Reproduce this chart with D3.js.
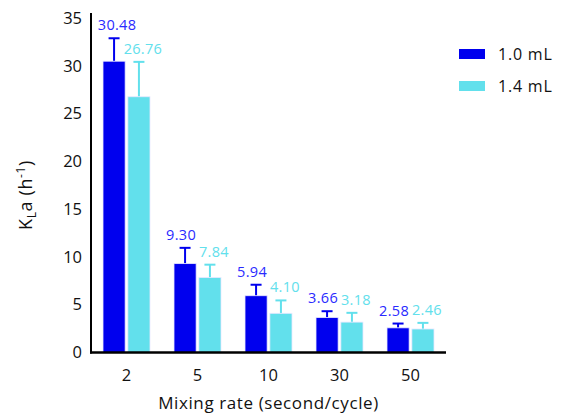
<!DOCTYPE html>
<meta charset="utf-8">
<script src="https://d3js.org/d3.v7.min.js"></script>
<style>
  body { margin: 0; background: #fff; }
  text { font-family: "Open Sans", Lato, sans-serif; }
</style>
<div id="chart"></div>
<script>
// mixing rate categories and the two fill volumes
var rates = ["2", "5", "10", "30", "50"];
var series = ["1.0 mL", "1.4 mL"];
var kla10 = [30.48, 9.30, 5.94, 3.66, 2.58];
var kla14 = [26.76, 7.84, 4.10, 3.18, 2.46];
var err10 = [2.4, 1.65, 1.15, 0.66, 0.45];
var err14 = [3.65, 1.35, 1.35, 0.97, 0.64];
var yTicks = [0, 5, 10, 15, 20, 25, 30, 35];

var colors = ["#0000ee", "#62e0ec"];
var labelColors = ["#2a2aff", "#62e0ec"];

var width = 561, height = 415;
var margin = {top: 18, left: 91, right: 115, bottom: 62};

var svg = d3.select("#chart").append("svg")
    .attr("width", width)
    .attr("height", height);

var x = d3.scaleBand()
    .domain(rates)
    .range([margin.left, width - margin.right]);

var xi = d3.scaleBand()
    .domain(series)
    .range([0, 47])
    .paddingInner(0.11);

var y = d3.scaleLinear()
    .domain([0, 35])
    .range([height - margin.bottom - 0.5, margin.top]);

var data = [];
rates.forEach(function (r, i) {
  data.push({rate: r, i: i, s: 0, v: kla10[i], e: err10[i]});
  data.push({rate: r, i: i, s: 1, v: kla14[i], e: err14[i]});
});

function bx(d) {
  return x(d.rate) + (x.bandwidth() - 47) / 2 + xi(series[d.s]);
}

// error bars (drawn first so bars sit on them)
var eb = svg.append("g").selectAll("g")
  .data(data).enter().append("g")
    .attr("stroke", function (d) { return colors[d.s]; })
    .attr("stroke-width", 2);

eb.append("line")
    .attr("x1", function (d) { return bx(d) + xi.bandwidth() / 2; })
    .attr("x2", function (d) { return bx(d) + xi.bandwidth() / 2; })
    .attr("y1", function (d) { return y(d.v); })
    .attr("y2", function (d) { return y(d.v + d.e); });

eb.append("line")
    .attr("x1", function (d) { return bx(d) + xi.bandwidth() / 2 - 5.5; })
    .attr("x2", function (d) { return bx(d) + xi.bandwidth() / 2 + 5.5; })
    .attr("y1", function (d) { return y(d.v + d.e); })
    .attr("y2", function (d) { return y(d.v + d.e); });

// bars
svg.append("g").selectAll("rect")
  .data(data).enter().append("rect")
    .attr("x", function (d) { return bx(d); })
    .attr("y", function (d) { return y(d.v); })
    .attr("width", xi.bandwidth())
    .attr("height", function (d) { return y(0) - y(d.v); })
    .attr("fill", function (d) { return colors[d.s]; })
    .attr("stroke", "#e8e8ff")
    .attr("stroke-width", 0.8);

// value labels: dark ones lean left, light ones lean right
svg.append("g").selectAll("text")
  .data(data).enter().append("text")
    .attr("x", function (d) {
      var off = d.s === 0 ? (d.i === 0 ? 3 : -4) : 4;
      return bx(d) + xi.bandwidth() / 2 + off;
    })
    .attr("y", function (d) { return y(d.v + d.e) - 8; })
    .attr("text-anchor", "middle")
    .attr("font-size", 14.5)
    .attr("letter-spacing", 0.3)
    .attr("fill", function (d) { return labelColors[d.s]; })
    .text(function (d) { return d.v.toFixed(2); });

// y axis
var yAxis = svg.append("g")
    .attr("transform", "translate(" + margin.left + ",0)")
    .call(d3.axisLeft(y).tickValues(yTicks).tickSize(0).tickPadding(9));
yAxis.select(".domain").remove();
yAxis.selectAll("text").attr("font-size", 16.5).attr("fill", "#111")
    .style("font-family", "'Open Sans', sans-serif");
svg.append("line")
    .attr("x1", margin.left).attr("x2", margin.left)
    .attr("y1", 13).attr("y2", y(0) + 1)
    .attr("stroke", "#000").attr("stroke-width", 2);

// x axis
var xAxis = svg.append("g")
    .attr("transform", "translate(0," + y(0) + ")")
    .call(d3.axisBottom(x).tickSize(0).tickPadding(17));
xAxis.select(".domain").remove();
xAxis.selectAll("text").attr("font-size", 16.5).attr("fill", "#111")
    .style("font-family", "'Open Sans', sans-serif");
svg.append("line")
    .attr("x1", margin.left - 1).attr("x2", width - margin.right)
    .attr("y1", y(0)).attr("y2", y(0))
    .attr("stroke", "#000").attr("stroke-width", 2.5);

// axis titles
svg.append("text")
    .attr("x", (margin.left + width - margin.right) / 2)
    .attr("y", 409)
    .attr("text-anchor", "middle")
    .attr("font-size", 17)
    .attr("letter-spacing", 0.6)
    .attr("fill", "#111")
    .text("Mixing rate (second/cycle)");

var yt = svg.append("text")
    .attr("transform", "translate(32,195) rotate(-90)")
    .attr("text-anchor", "middle")
    .attr("font-size", 18)
    .attr("letter-spacing", 0.6)
    .attr("fill", "#111");
yt.append("tspan").text("K");
yt.append("tspan").attr("font-size", 12).attr("dy", 4).text("L");
yt.append("tspan").attr("dy", -4).text("a (h");
yt.append("tspan").attr("font-size", 12).attr("dy", -7).text("-1");
yt.append("tspan").attr("dy", 7).text(")");

// legend
var lg = svg.append("g").selectAll("g")
  .data(series).enter().append("g")
    .attr("transform", function (d, i) { return "translate(459," + (49 + i * 32) + ")"; });
lg.append("rect")
    .attr("width", 26).attr("height", 10)
    .attr("fill", function (d, i) { return colors[i]; });
lg.append("text")
    .attr("x", 39).attr("y", 5).attr("dy", "0.35em")
    .attr("font-size", 16).attr("letter-spacing", 0.8).attr("fill", "#111")
    .text(function (d) { return d; });
</script>
